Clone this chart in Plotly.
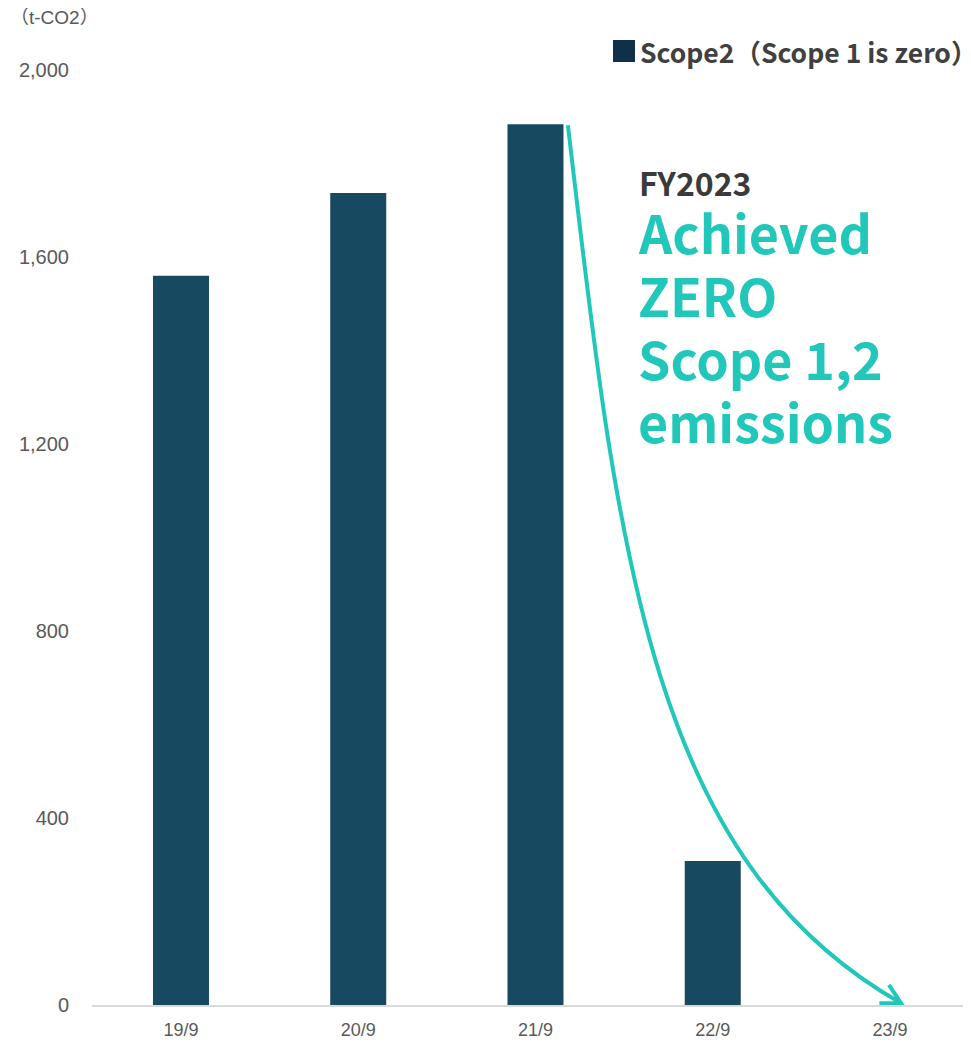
import plotly.graph_objects as go

# ---------------- data ----------------
categories = ["19/9", "20/9", "21/9", "22/9", "23/9"]
scope2 = [1560, 1737, 1884, 308, 0]
y_tick_values = [0, 400, 800, 1200, 1600, 2000]
y_tick_labels = ["0", "400", "800", "1,200", "1,600", "2,000"]

unit_label = "（t-CO2）"
legend_label = "Scope2（Scope 1 is zero）"
note_year = "FY2023"
note_lines = ["Achieved", "ZERO", "Scope 1,2", "emissions"]

# decorative arrow (data coordinates: category index, t-CO2)
arrow_start = (2.183, 1882)
arrow_ctrl1 = (2.465, 960)
arrow_ctrl2 = (2.646, 310)
arrow_tip = (4.062, 4)
arrow_arm_upper = (3.994, 43)
arrow_arm_lower = (3.94, 4)

# ---------------- style ----------------
OFF = 8                      # page body margin of the html page
W, H = 971 - OFF, 1042 - OFF
ML, MR, MT, MB = 92 - OFF, 0, 70 - OFF, 1042 - 1005
BAR_COLOR = "#174a61"
LEGEND_COLOR = "#10304a"
TEAL = "#21c8ba"
TICK_COLOR = "#595959"
TEXT_DARK = "#3a3a3a"
LATIN = "Liberation Sans, Arial, Noto Sans CJK JP, sans-serif"
CJK = "Noto Sans CJK JP, Noto Sans, sans-serif"


def px(x):
    """screen x pixel -> paper"""
    return (x - OFF - ML) / (W - ML - MR)


def py(y):
    """screen y pixel -> paper"""
    return (H - MB - (y - OFF)) / (H - MT - MB)


x_index = list(range(len(categories)))

fig = go.Figure()
fig.add_trace(
    go.Bar(
        x=x_index,
        y=scope2,
        width=0.316,
        marker=dict(color=BAR_COLOR, line=dict(width=0)),
        name=legend_label,
        showlegend=False,
        hoverinfo="skip",
    )
)


def fmt(p):
    return f"{p[0]},{p[1]}"


curve_path = (
    f"M {fmt(arrow_start)} C {fmt(arrow_ctrl1)} {fmt(arrow_ctrl2)} {fmt(arrow_tip)}"
)
head_path = f"M {fmt(arrow_arm_upper)} L {fmt(arrow_tip)} L {fmt(arrow_arm_lower)}"

shapes = [
    dict(type="path", xref="x", yref="y", path=curve_path,
         line=dict(color=TEAL, width=4), layer="above"),
    dict(type="path", xref="x", yref="y", path=head_path,
         line=dict(color=TEAL, width=4), layer="above"),
    # legend swatch
    dict(type="rect", xref="paper", yref="paper",
         x0=px(613), x1=px(635), y0=py(62), y1=py(40),
         fillcolor=LEGEND_COLOR, line=dict(width=0)),
]

annotations = [
    dict(text=unit_label, x=px(8), y=py(18), xref="paper", yref="paper",
         xanchor="left", yanchor="middle", showarrow=False,
         font=dict(family=LATIN, size=19, color=TICK_COLOR)),
    dict(text=legend_label, x=px(638), y=py(52), xref="paper", yref="paper",
         xanchor="left", yanchor="middle", showarrow=False,
         font=dict(family=CJK, size=26.5, color="#404040", weight=700)),
    dict(text=note_year, x=px(637), y=py(182), xref="paper", yref="paper",
         xanchor="left", yanchor="middle", showarrow=False,
         font=dict(family=CJK, size=32, color=TEXT_DARK, weight=700)),
]
line_mid_y = [231, 294, 357, 420]
for txt, yy in zip(note_lines, line_mid_y):
    annotations.append(
        dict(text=txt, x=px(636), y=py(yy), xref="paper", yref="paper",
             xanchor="left", yanchor="middle", showarrow=False,
             font=dict(family=CJK, size=52, color=TEAL, weight=700))
    )

fig.update_layout(
    width=W,
    height=H,
    margin=dict(l=ML, r=MR, t=MT, b=MB, pad=0),
    paper_bgcolor="white",
    plot_bgcolor="white",
    showlegend=False,
    bargap=0.68,
    shapes=shapes,
    annotations=annotations,
    xaxis=dict(
        range=[-0.502, 4.457],
        tickvals=x_index,
        ticktext=categories,
        showgrid=False,
        zeroline=False,
        showline=True,
        linecolor="#d9d9d9",
        linewidth=2,
        ticks="",
        ticklabelstandoff=7,
        tickfont=dict(family=LATIN, size=18, color=TICK_COLOR),
        fixedrange=True,
    ),
    yaxis=dict(
        range=[0, 2000],
        tickvals=y_tick_values,
        ticktext=y_tick_labels,
        showgrid=False,
        zeroline=False,
        showline=False,
        ticks="",
        ticklabelstandoff=22,
        tickfont=dict(family=LATIN, size=20, color=TICK_COLOR),
        fixedrange=True,
    ),
)

fig.write_html("out.html")
